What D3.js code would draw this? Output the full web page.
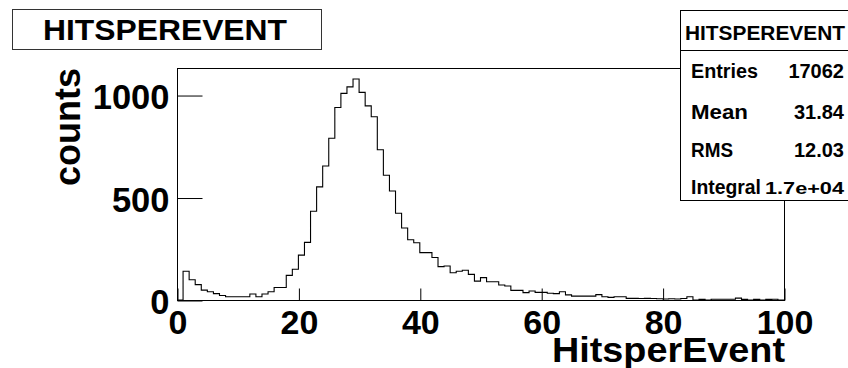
<!DOCTYPE html>
<html>
<head>
<meta charset="utf-8">
<script src="https://cdn.jsdelivr.net/npm/d3@7"></script>
<style>
  html, body { margin: 0; padding: 0; background: #fff; }
  svg { display: block; }
  text { font-family: "Liberation Sans", Arial, Helvetica, sans-serif; font-weight: bold; fill: #000; }
</style>
</head>
<body>
<svg id="chart" width="848" height="368"></svg>
<script>
// Hits per event histogram: 100 bins of width 1 over [0, 100]
const binEdgesLow = d3.range(0, 100);
const counts = [
  0, 140, 99, 75, 48, 40, 31, 22, 16, 16,
  16, 16, 29, 16, 29, 40, 61, 61, 120, 150,
  219, 281, 433, 552, 654, 789, 939, 1008, 1040, 1078,
  1013, 947, 894, 733, 609, 532, 423, 351, 294, 279,
  231, 231, 207, 163, 166, 133, 140, 145, 125, 92,
  109, 89, 89, 73, 68, 47, 47, 36, 44, 37,
  37, 33, 31, 40, 25, 19, 19, 19, 19, 26,
  16, 13, 16, 16, 8, 8, 7, 8, 7, 6,
  5, 6, 5, 7, 16, 0, 3, 0, 4, 4,
  4, 4, 9, 3, 0, 3, 0, 3, 4, 0
];
const xTicks = [0, 20, 40, 60, 80, 100];
const yTicks = [0, 500, 1000];

const histTitle = "HITSPEREVENT";
const xTitle = "HitsperEvent";
const yTitle = "counts";
const statLabels = ["Entries", "Mean", "RMS", "Integral"];
const statValues = ["17062", "31.84", "12.03", "1.7e+04"];

const svg = d3.select("#chart");

const frame = { left: 177, right: 784, top: 68, bottom: 300 };

const x = d3.scaleLinear().domain([0, 100]).range([frame.left, frame.right]);
const y = d3.scaleLinear().domain([0, 1.05 * d3.max(counts)]).range([frame.bottom, frame.top]);

// histogram outline as a step path
const pts = [];
binEdgesLow.forEach((lo, i) => {
  pts.push([lo, counts[i]]);
  pts.push([lo + 1, counts[i]]);
});
const line = d3.line().x(d => x(d[0])).y(d => y(d[1]));

svg.append("path")
  .attr("d", line(pts))
  .attr("fill", "none")
  .attr("stroke", "#000")
  .attr("stroke-width", 1.1);

// frame
svg.append("rect")
  .attr("x", frame.left + 0.5).attr("y", frame.top + 0.5)
  .attr("width", frame.right - frame.left).attr("height", frame.bottom - frame.top)
  .attr("fill", "none").attr("stroke", "#000").attr("stroke-width", 1);

// x axis
const xAxis = svg.append("g")
  .attr("transform", `translate(0.5,${frame.bottom + 0.5})`)
  .call(d3.axisBottom(x).tickValues(xTicks).tickSize(-12).tickSizeOuter(0).tickFormat(d3.format("d")));
xAxis.select(".domain").remove();
xAxis.selectAll(".tick line").attr("stroke", "#000");
xAxis.selectAll(".tick text")
  .attr("y", 33.5).attr("dy", null)
  .attr("font-size", 34)
  .attr("font-family", null)
  .style("font-family", "'Liberation Sans', Arial, sans-serif");

// y axis
const yAxis = svg.append("g")
  .attr("transform", `translate(${frame.left + 0.5},0.5)`)
  .call(d3.axisLeft(y).tickValues(yTicks).tickSize(-25).tickSizeOuter(0).tickPadding(8).tickFormat(d3.format("d")));
yAxis.select(".domain").remove();
yAxis.selectAll(".tick line").attr("stroke", "#000");
yAxis.selectAll(".tick text")
  .attr("dy", "0.38em")
  .attr("font-size", 34.5)
  .attr("font-family", null)
  .style("font-family", "'Liberation Sans', Arial, sans-serif");

// axis titles
svg.append("text")
  .attr("x", frame.right + 1).attr("y", 362)
  .attr("text-anchor", "end")
  .attr("font-size", 35)
  .attr("textLength", 233).attr("lengthAdjust", "spacingAndGlyphs")
  .text(xTitle);

svg.append("text")
  .attr("transform", `translate(80,${frame.top}) rotate(-90)`)
  .attr("text-anchor", "end")
  .attr("font-size", 37)
  .attr("textLength", 118).attr("lengthAdjust", "spacingAndGlyphs")
  .text(yTitle);

// title box
svg.append("rect")
  .attr("x", 12.5).attr("y", 9.5).attr("width", 309).attr("height", 40)
  .attr("fill", "#fff").attr("stroke", "#333").attr("stroke-width", 1);
svg.append("text")
  .attr("x", 43).attr("y", 40)
  .attr("font-size", 30)
  .attr("textLength", 244).attr("lengthAdjust", "spacingAndGlyphs")
  .text(histTitle);

// statistics box
const stats = svg.append("g");
stats.append("rect")
  .attr("x", 680.5).attr("y", 10.5).attr("width", 200).attr("height", 190)
  .attr("fill", "#fff").attr("stroke", "#000").attr("stroke-width", 1);
stats.append("line")
  .attr("x1", 680).attr("x2", 848).attr("y1", 50.5).attr("y2", 50.5)
  .attr("stroke", "#000");
stats.append("text")
  .attr("x", 685).attr("y", 40)
  .attr("font-size", 21)
  .attr("textLength", 160).attr("lengthAdjust", "spacingAndGlyphs")
  .text(histTitle);

const rowY = [78, 119, 157, 194];
const labelWidths = [67, 57, 42, 70];
statLabels.forEach((lab, i) => {
  stats.append("text")
    .attr("x", 691).attr("y", rowY[i])
    .attr("font-size", 19.5)
    .attr("textLength", labelWidths[i]).attr("lengthAdjust", "spacingAndGlyphs")
    .text(lab);
});
statValues.forEach((val, i) => {
  const t = stats.append("text")
    .attr("x", 844).attr("y", rowY[i])
    .attr("text-anchor", "end")
    .attr("font-size", i === 3 ? 17 : 20)
    .text(val);
  if (i === 3) t.attr("textLength", 79).attr("lengthAdjust", "spacingAndGlyphs");
});
</script>
</body>
</html>
